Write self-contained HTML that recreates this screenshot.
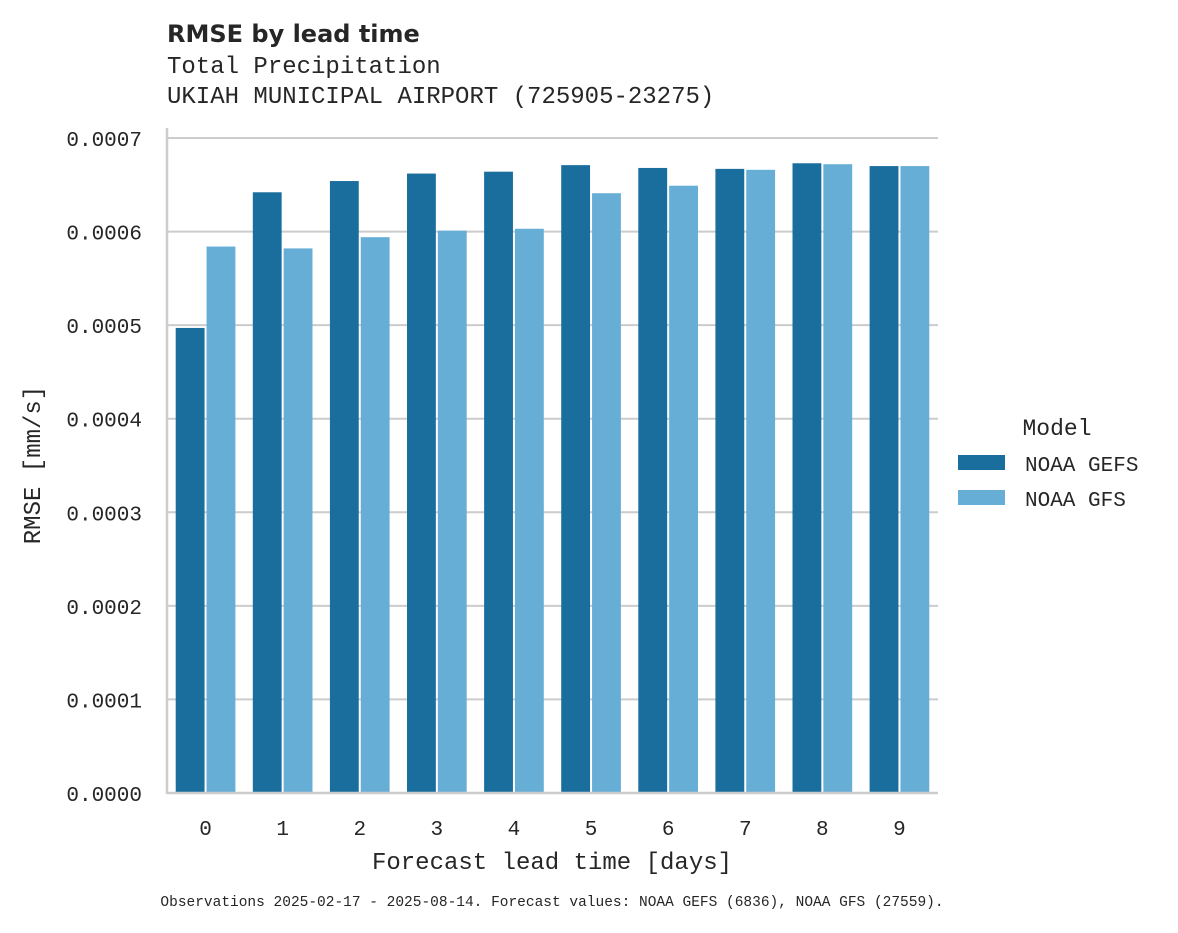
<!DOCTYPE html>
<html><head><meta charset="utf-8"><style>
body{margin:0;background:#fff;}
svg text{font-family:"Liberation Mono","DejaVu Sans Mono",monospace;fill:#262626;}
</style></head><body>
<svg id="chart" width="1178" height="928" xmlns="http://www.w3.org/2000/svg">
<text x="167" y="42" style="font-family:'DejaVu Sans','Liberation Sans',sans-serif;font-weight:bold;font-size:24px">RMSE by lead time</text>
<text x="167" y="73" font-size="24">Total Precipitation</text>
<text x="167" y="103" font-size="24">UKIAH MUNICIPAL AIRPORT (725905-23275)</text>
<g id="grid"></g>
<g id="bars"></g>
<g id="axes"></g>
<text transform="translate(40,465) rotate(-90)" text-anchor="middle" font-size="24">RMSE [mm/s]</text>
<text x="552" y="869" text-anchor="middle" font-size="24">Forecast lead time [days]</text>
<g>
<text x="1057" y="435" text-anchor="middle" font-size="23">Model</text>
<rect x="958" y="455" width="47" height="15" fill="#1a6e9e"/>
<text x="1025" y="471" font-size="21">NOAA GEFS</text>
<rect x="958" y="490" width="47" height="15" fill="#67aed6"/>
<text x="1025" y="506" font-size="21">NOAA GFS</text>
</g>
<text x="552" y="906" text-anchor="middle" font-size="14.5">Observations 2025-02-17 - 2025-08-14. Forecast values: NOAA GEFS (6836), NOAA GFS (27559).</text>
</svg>
<script>
const categories=["0","1","2","3","4","5","6","7","8","9"];
const gefs=[0.000497,0.000642,0.000654,0.000662,0.000664,0.000671,0.000668,0.000667,0.000673,0.00067];
const gfs=[0.000584,0.000582,0.000594,0.000601,0.000603,0.000641,0.000649,0.000666,0.000672,0.00067];
const yTicks=[0,0.0001,0.0002,0.0003,0.0004,0.0005,0.0006,0.0007];
const NS="http://www.w3.org/2000/svg";
const x0=167,x1=938,yBase=793,yTop=138,yMax=0.0007;
const y=v=>yBase-(v/yMax)*(yBase-yTop);
const band=(x1-x0)/categories.length;
const xc=i=>x0+band*(i+0.5);
function mk(tag,attrs,parent){const e=document.createElementNS(NS,tag);for(const k in attrs)e.setAttribute(k,attrs[k]);parent.appendChild(e);return e;}
const grid=document.getElementById('grid'),bars=document.getElementById('bars'),axes=document.getElementById('axes');
yTicks.forEach(t=>{
  const l=mk('line',{x1:x0,x2:x1,y1:y(t),y2:y(t),stroke:'#cccccc','stroke-width':2},grid);
  
  
  const tx=mk('text',{x:142,y:y(t)+8,'text-anchor':'end','font-size':21},axes);
  tx.textContent=t.toFixed(4);
  
  
});
const bw=band*0.8/2;
categories.forEach((c,i)=>{
  [[gefs,'#1a6e9e','gefs'],[gfs,'#67aed6','gfs']].forEach(([s,col,n],j)=>{
    const bx=xc(i)-band*0.4+j*bw;
    const r=mk('rect',{x:bx+1,y:y(s[i]),width:bw-2,height:yBase-y(s[i]),fill:col},bars);
    
    
  });
  const tx=mk('text',{x:xc(i),y:835,'text-anchor':'middle','font-size':21},axes);
  tx.textContent=c;
  
  
});
const la=mk('line',{x1:x0,x2:x0,y1:128,y2:yBase+1,stroke:'#cccccc','stroke-width':2.5},axes);


const lb=mk('line',{x1:x0,x2:x1,y1:yBase,y2:yBase,stroke:'#cccccc','stroke-width':2.5},axes);


</script>
</body></html>
